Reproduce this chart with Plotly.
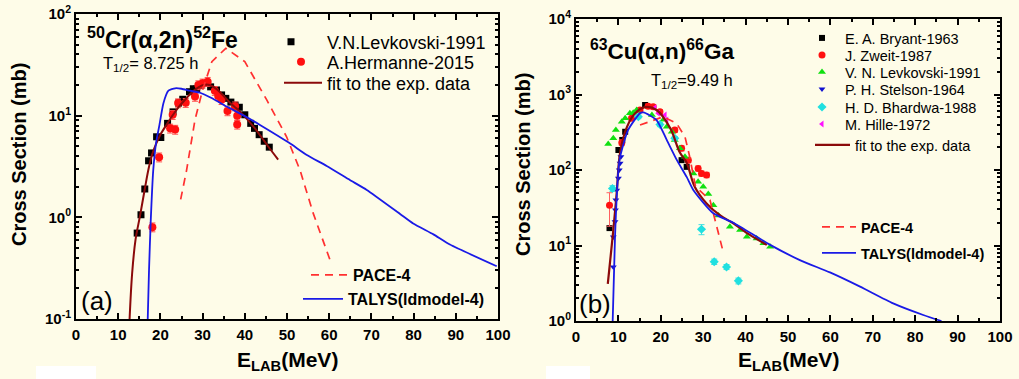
import plotly.graph_objects as go

# ---------------- panel (a): 50Cr(alpha,2n)52Fe ----------------
levk_a_E = [14.5, 15.4, 16.3, 17.2, 17.9, 19.1, 20.1, 21.7, 23.0, 24.3, 25.3, 26.9, 27.8,
            28.6, 29.6, 30.8, 31.9, 33.3, 34.5, 35.5, 36.7, 37.7, 38.7, 40.0, 41.4, 42.3,
            43.4, 44.6, 45.8]
levk_a_xs = [0.70, 1.06, 1.9, 3.6, 4.3, 6.2, 6.1, 8.4, 10.9, 13.3, 14.5, 17.2, 18.4,
             18.3, 19.9, 20.8, 19.2, 17.9, 16.0, 14.8, 13.6, 12.7, 12.1, 10.2, 8.4, 7.5,
             6.5, 5.6, 4.9]

herm_a_E = [18.1, 19.7, 22.3, 22.9, 23.5, 24.2, 26.0, 28.2, 29.0, 30.0, 31.2, 32.9,
            33.7, 34.5, 35.9, 37.7, 38.2, 38.2]
herm_a_xs = [0.8, 3.9, 7.5, 10.2, 7.3, 13.3, 13.4, 15.4, 20.0, 20.8, 21.6, 17.6,
             15.6, 14.3, 11.1, 12.4, 10.0, 8.2]

fit_a_E = [12.7, 13.3, 14.1, 15.2, 16.3, 17.2, 18.0, 19.0, 20.0, 21.5, 23.0, 24.5, 26.0,
           27.5, 29.0, 30.5, 32.0, 33.5, 35.0, 36.5, 38.0, 39.5, 41.0, 42.5, 44.0, 45.5, 47.9]
fit_a_xs = [0.1, 0.28, 0.6, 1.05, 1.9, 3.0, 4.1, 5.3, 6.5, 8.2, 10.2, 12.4, 14.6,
            17.0, 19.0, 20.2, 19.8, 18.0, 15.6, 13.4, 11.8, 10.3, 8.8, 7.4, 6.1, 5.0, 3.7]

pace_a_E = [24.8, 26.2, 28.2, 30.0, 32.2, 35.5, 40.0, 45.2, 49.9, 53.1, 56.2, 60.2]
pace_a_xs = [1.5, 2.9, 9.1, 17.9, 34.0, 46.0, 34.0, 14.3, 6.2, 2.9, 1.1, 0.38]

talys_a_E = [17.0, 17.3, 17.7, 18.3, 19.0, 19.7, 20.7, 21.9, 23.5, 25.0, 27.0, 29.4, 32.0,
             35.7, 40.0, 43.6, 50.5, 54.7, 59.4, 64.9, 68.9, 76.8, 79.9, 84.7, 88.6, 99.7]
talys_a_xs = [0.1, 0.3, 0.9, 2.9, 5.5, 7.8, 13.2, 17.6, 18.6, 18.4, 17.6, 16.8, 15.0,
              12.3, 9.9, 8.1, 5.4, 4.1, 3.2, 2.33, 1.86, 1.08, 0.87, 0.68, 0.54, 0.33]

# ---------------- panel (b): 63Cu(alpha,n)66Ga ----------------
bryant_E = [7.9, 10.0, 10.9, 11.6, 16.3, 24.9, 26.1]
bryant_xs = [17, 184, 250, 321, 726, 135, 110]

zweit_E = [7.9, 10.8, 13.1, 15.1, 17.0, 18.2, 19.8, 23.3, 24.9, 26.5, 28.8, 29.6, 30.8]
zweit_xs = [34, 230, 484, 624, 700, 690, 591, 339, 194, 135, 105, 90, 86]
zweit_err = [16, 20, 30, 40, 45, 45, 40, 25, 15, 10, 8, 7, 7]

levk_b_E = [7.6, 8.8, 9.4, 10.8, 11.6, 12.7, 13.5, 14.3, 17.9, 20.6, 21.4, 22.6, 23.3,
            24.5, 25.7, 27.7, 28.8, 30.0, 31.2, 32.4, 33.6, 36.3, 38.7, 40.3, 42.6, 44.2, 45.8]
levk_b_xs = [221, 263, 339, 437, 484, 564, 573, 624, 534, 464, 375, 321, 250,
             194, 150, 90, 70, 60, 48, 34, 25, 17.7, 16, 13.1, 12.4, 10.7, 9.6]

stelson_E = [8.8, 8.8, 9.2, 9.3, 9.4, 9.6, 10.0, 10.2, 10.4, 10.6]
stelson_xs = [5.2, 13, 20.6, 29.5, 40, 54, 78, 100, 123, 150]

bhard_E = [8.6, 14.7, 19.8, 23.3, 29.6, 32.6, 35.5, 38.3]
bhard_xs = [57, 508, 400, 263, 16.4, 6.1, 5.2, 3.4]
bhard_err = [5, 30, 25, 15, 2.5, 0.5, 0.4, 0.3]

hille_E = [18.6, 19.4, 21.0, 21.4]
hille_xs = [670, 564, 534, 459]

fit_b_E = [7.5, 8.8, 9.6, 10.4, 12.0, 13.9, 16.3, 19.0, 22.2, 24.5, 26.1, 28.0, 30.8,
           34.0, 37.1, 41.0, 45.0]
fit_b_xs = [3.1, 16, 50, 170, 370, 560, 680, 624, 360, 170, 125, 60, 36,
            25, 19.7, 13.8, 10.2]

pace_b_E = [15.1, 20.6, 23.7, 25.7, 26.7, 28.2, 31.6, 33.2, 34.6]
pace_b_xs = [394, 508, 416, 276, 160, 60, 40, 17.7, 8.7]

talys_b_E = [8.65, 9.2, 10.0, 10.4, 12.3, 15.1, 15.9, 19.0, 21.4, 23.8, 26.1, 27.7, 32.4,
             37.1, 45.8, 52.8, 59.9, 67.0, 74.8, 81.9, 86.2]
talys_b_xs = [1.0, 13, 100, 150, 339, 564, 580, 459, 250, 135, 81, 54, 26.7,
              20, 10.2, 6.4, 4.4, 2.85, 1.71, 1.2, 1.0]

# axis ticks and labels
x_tick_vals = [0, 10, 20, 30, 40, 50, 60, 70, 80, 90, 100]
y_tick_vals_a = [0.1, 1, 10, 100]
y_tick_text_a = ["10<sup>-1</sup>", "10<sup>0</sup>", "10<sup>1</sup>", "10<sup>2</sup>"]
y_tick_vals_b = [1, 10, 100, 1000, 10000]
y_tick_text_b = ["10<sup>0</sup>", "10<sup>1</sup>", "10<sup>2</sup>", "10<sup>3</sup>", "10<sup>4</sup>"]

W, H = 1019, 379
BG = "#FEFCE8"
FONT = "Liberation Sans, Arial, sans-serif"


def px(x):
    return x / W


def py(y):
    return 1 - y / H


fig = go.Figure()

# one small legend per entry: id -> (text left px, row centre px, font size, symbol width)
legend_specs = {}


def add(trace, leg, text_x, y, size, iw):
    legend_specs[leg] = (text_x, y, size, iw)
    trace.legend = leg
    trace.showlegend = True
    fig.add_trace(trace)


# ---- panel (a) traces ----
add(go.Scatter(x=levk_a_E, y=levk_a_xs, mode="markers", name="V.N.Levkovski-1991",
               marker=dict(symbol="square", size=7, color="black"),
               xaxis="x", yaxis="y"), "legend", 327, 42, 18, 62)
add(go.Scatter(x=herm_a_E, y=herm_a_xs, mode="markers", name="A.Hermanne-2015",
               marker=dict(symbol="circle", size=8, color="#FF1010"),
               error_y=dict(type="percent", value=10, color="#FF5050", thickness=1, width=3),
               xaxis="x", yaxis="y"), "legend2", 327, 62, 18, 42)
add(go.Scatter(x=fit_a_E, y=fit_a_xs, mode="lines", name="fit to the exp. data",
               line=dict(color="#8B0A0A", width=2, shape="spline"),
               xaxis="x", yaxis="y"), "legend3", 327, 83, 18, 38)
add(go.Scatter(x=pace_a_E, y=pace_a_xs, mode="lines", name="<b>PACE-4</b>",
               line=dict(color="#FF3030", width=1.7, dash="8px,6px"),
               xaxis="x", yaxis="y"), "legend4", 353, 275, 16, 37)
add(go.Scatter(x=talys_a_E, y=talys_a_xs, mode="lines", name="<b>TALYS(ldmodel-4)</b>",
               line=dict(color="#1A1AE6", width=1.8, shape="spline", smoothing=0.5),
               xaxis="x", yaxis="y"), "legend5", 348, 299, 16, 40)

# ---- panel (b) traces ----
add(go.Scatter(x=bryant_E, y=bryant_xs, mode="markers", name="E. A. Bryant-1963",
               marker=dict(symbol="square", size=6, color="black"),
               xaxis="x2", yaxis="y2"), "legend6", 845, 38, 14.5, 36)
add(go.Scatter(x=zweit_E, y=zweit_xs, mode="markers", name="J. Zweit-1987",
               marker=dict(symbol="circle", size=7, color="#FF1010"),
               error_y=dict(type="data", array=zweit_err, color="#FF6060", thickness=1, width=3),
               xaxis="x2", yaxis="y2"), "legend7", 845, 55, 14.5, 36)
add(go.Scatter(x=levk_b_E, y=levk_b_xs, mode="markers", name="V. N. Levkovski-1991",
               marker=dict(symbol="triangle-up", size=7, color="#10E010"),
               xaxis="x2", yaxis="y2"), "legend8", 845, 72, 14.5, 36)
add(go.Scatter(x=stelson_E, y=stelson_xs, mode="markers", name="P. H. Stelson-1964",
               marker=dict(symbol="triangle-down", size=6, color="#1010D0"),
               xaxis="x2", yaxis="y2"), "legend9", 845, 89, 14.5, 36)
add(go.Scatter(x=bhard_E, y=bhard_xs, mode="markers", name="H. D. Bhardwa-1988",
               marker=dict(symbol="diamond", size=7, color="#20E0E0"),
               error_y=dict(type="data", array=bhard_err, color="#40E0E0", thickness=1, width=3),
               xaxis="x2", yaxis="y2"), "legend10", 845, 107, 14.5, 36)
add(go.Scatter(x=hille_E, y=hille_xs, mode="markers", name="M. Hille-1972",
               marker=dict(symbol="triangle-left", size=6, color="#FF10FF"),
               xaxis="x2", yaxis="y2"), "legend11", 845, 124, 14.5, 36)
add(go.Scatter(x=fit_b_E, y=fit_b_xs, mode="lines", name="fit to the exp. data",
               line=dict(color="#8B0A0A", width=2.2, shape="spline"),
               xaxis="x2", yaxis="y2"), "legend12", 855, 145, 14.5, 35)
add(go.Scatter(x=pace_b_E, y=pace_b_xs, mode="lines", name="<b>PACE-4</b>",
               line=dict(color="#FF3030", width=1.7, dash="8px,6px"),
               xaxis="x2", yaxis="y2"), "legend13", 861, 227, 14.5, 34)
add(go.Scatter(x=talys_b_E, y=talys_b_xs, mode="lines", name="<b>TALYS(ldmodel-4)</b>",
               line=dict(color="#1A1AE6", width=1.8, shape="spline", smoothing=0.6),
               xaxis="x2", yaxis="y2"), "legend14", 861, 253, 14.5, 34)

axis_common = dict(showline=True, linewidth=2, linecolor="black", mirror="allticks",
                   ticks="inside", ticklen=6, tickwidth=1.5, tickcolor="black",
                   showgrid=False, zeroline=False, automargin=False,
                   tickfont=dict(family=FONT, size=15, color="black", weight="bold"))

minor_a = [m * 10.0 ** d for d in range(-1, 2) for m in range(2, 10)]
minor_b = [m * 10.0 ** d for d in range(0, 4) for m in range(2, 10)]

layout = dict(
    width=W, height=H, margin=dict(l=0, r=0, t=0, b=0, autoexpand=False),
    paper_bgcolor=BG, plot_bgcolor=BG, showlegend=True,
    font=dict(family=FONT, color="black"),
    xaxis=dict(domain=[px(76), px(498)], range=[0, 100], tickvals=x_tick_vals,
               anchor="y", ticklabelstandoff=1,
               minor=dict(ticks="inside", ticklen=3, dtick=5, tickcolor="black"),
               **axis_common),
    yaxis=dict(domain=[py(319), py(14)], type="log", range=[-1, 2], anchor="x",
               tickvals=y_tick_vals_a, ticktext=y_tick_text_a,
               minor=dict(ticks="inside", ticklen=3, tickvals=minor_a, tickcolor="black"),
               **axis_common),
    xaxis2=dict(domain=[px(576), px(1000)], range=[0, 100], tickvals=x_tick_vals,
                anchor="y2", ticklabelstandoff=1,
                minor=dict(ticks="inside", ticklen=3, dtick=5, tickcolor="black"),
                **axis_common),
    yaxis2=dict(domain=[py(321), py(19)], type="log", range=[0, 4], anchor="x2",
                tickvals=y_tick_vals_b, ticktext=y_tick_text_b,
                minor=dict(ticks="inside", ticklen=3, tickvals=minor_b, tickcolor="black"),
                **axis_common),
)

for leg, (text_x, y, size, iw) in legend_specs.items():
    layout[leg] = dict(x=px(text_x - iw - 10), y=py(y), xanchor="left", yanchor="middle",
                       itemwidth=iw, bgcolor="rgba(0,0,0,0)", borderwidth=0, visible=True,
                       font=dict(family=FONT, size=size, color="black"))

fig.update_layout(**layout)

# text labels
ann = [
    dict(x=px(162), y=py(38), text="<b><sup>50</sup>Cr(α,2n)<sup>52</sup>Fe</b>", size=23),
    dict(x=px(150), y=py(64), text="T<sub>1/2</sub>= 8.725 h", size=16.5),
    dict(x=px(97), y=py(301), text="(a)", size=26),
    dict(x=px(662), y=py(50), text="<b><sup>63</sup>Cu(α,n)<sup>66</sup>Ga</b>", size=22.5),
    dict(x=px(692), y=py(81), text="T<sub>1/2</sub>=9.49 h", size=16.5),
    dict(x=px(595), y=py(304), text="(b)", size=26),
    dict(x=px(287), y=py(361), text="<b>E<sub>LAB</sub>(MeV)</b>", size=21),
    dict(x=px(788), y=py(361), text="<b>E<sub>LAB</sub>(MeV)</b>", size=21),
]
for a in ann:
    fig.add_annotation(x=a["x"], y=a["y"], xref="paper", yref="paper", text=a["text"],
                       showarrow=False, xanchor="center", yanchor="middle",
                       font=dict(family=FONT, size=a["size"], color="black"))

for xc, yc in [(19, 155), (523, 165)]:
    fig.add_annotation(x=px(xc), y=py(yc), xref="paper", yref="paper",
                       text="<b>Cross Section (mb)</b>", textangle=-90, showarrow=False,
                       xanchor="center", yanchor="middle",
                       font=dict(family=FONT, size=20, color="black"))

# white patches along the lower edge
for x0, x1 in [(36, 96), (546, 590)]:
    fig.add_shape(type="rect", xref="paper", yref="paper", x0=px(x0), x1=px(x1),
                  y0=py(379), y1=py(366), fillcolor="white", line=dict(width=0), layer="above")

fig.write_html("out.html")
